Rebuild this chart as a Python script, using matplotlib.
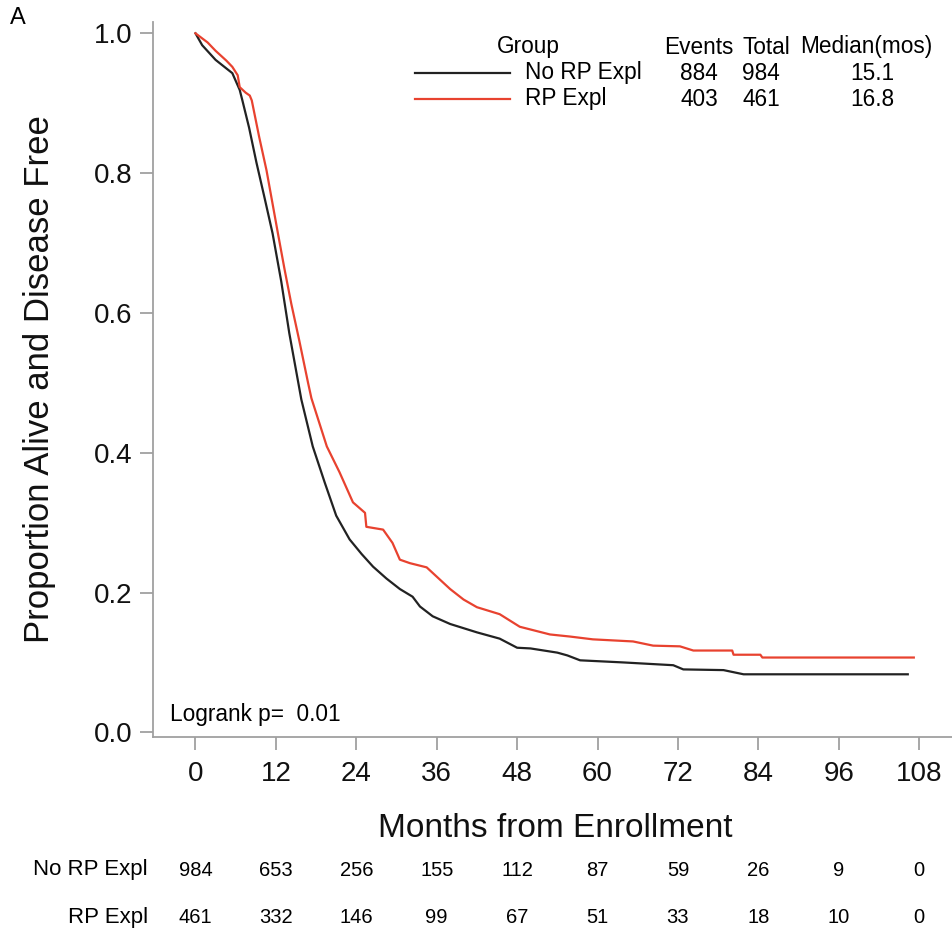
import matplotlib
matplotlib.use("Agg")
import matplotlib.pyplot as plt
import matplotlib.transforms as mtransforms
from matplotlib import font_manager

plt.rcParams['font.family'] = ['Liberation Sans', 'DejaVu Sans']

# ---- data ----
groups = ["No RP Expl", "RP Expl"]
colors = ["#222222", "#e8422f"]

t_norp = [0, 1.0, 3.0, 5.5, 6.6, 7.0, 8.0, 9.1, 10.3, 11.5, 12.8, 14.0, 15.8,
          17.5, 19.3, 21.0, 23.0, 24.8, 26.5, 28.5, 30.5, 32.4, 33.5, 35.4, 38.0,
          42.0, 45.4, 48.0, 50.0, 54.0, 55.5, 57.4, 63.8, 71.3, 72.8, 78.8, 81.8, 106.3]
s_norp = [1.0, 0.983, 0.962, 0.943, 0.919, 0.904, 0.865, 0.815, 0.765, 0.714, 0.645, 0.571,
          0.476, 0.409, 0.357, 0.31, 0.276, 0.255, 0.237, 0.22, 0.205, 0.194, 0.18,
          0.166, 0.155, 0.143, 0.134, 0.121, 0.12, 0.114, 0.11, 0.103, 0.1, 0.096, 0.09,
          0.089, 0.083, 0.083]

t_rp = [0, 1.8, 3.0, 4.6, 5.5, 6.3, 6.6, 7.5, 8.1, 8.4, 9.5, 10.6, 12.3, 13.3, 14.3,
        15.5, 16.8, 17.3, 19.6, 21.5, 23.5, 25.3, 25.5, 28.0, 29.4, 30.5, 32.0, 34.5,
        38.0, 40.0, 42.0, 45.4, 48.4, 52.9, 55.9, 59.3, 65.3, 68.3, 72.3, 74.3, 80.1,
        80.3, 84.3, 84.6, 107.2]
s_rp = [1.0, 0.987, 0.975, 0.961, 0.952, 0.94, 0.923, 0.915, 0.911, 0.904, 0.852, 0.804,
        0.714, 0.662, 0.613, 0.56, 0.5, 0.478, 0.409, 0.372, 0.329, 0.314, 0.294, 0.29,
        0.271, 0.247, 0.242, 0.236, 0.205, 0.19, 0.179, 0.169, 0.151, 0.14, 0.137, 0.133,
        0.13, 0.124, 0.123, 0.117, 0.117, 0.111, 0.111, 0.107, 0.107]

events = [884, 403]
totals = [984, 461]
medians = ["15.1", "16.8"]

risk_times = [0, 12, 24, 36, 48, 60, 72, 84, 96, 108]
risk_norp = [984, 653, 256, 155, 112, 87, 59, 26, 9, 0]
risk_rp = [461, 332, 146, 99, 67, 51, 33, 18, 10, 0]

x_ticks = [0, 12, 24, 36, 48, 60, 72, 84, 96, 108]
y_ticks = [0.0, 0.2, 0.4, 0.6, 0.8, 1.0]

# ---- figure ----
W, H = 952, 938
fig = plt.figure(figsize=(W / 100, H / 100), dpi=100)
ax = fig.add_axes([153 / W, 1 - 737 / H, (952 - 153) / W, (737 - 22) / H])

ax.plot(t_norp, s_norp, color=colors[0], lw=1.6)
ax.plot(t_rp, s_rp, color=colors[1], lw=1.6)

ax.set_xlim(-6.34, 112.9)
ax.set_ylim(-0.0067, 1.0162)

gray = "#a0a0a0"
for s in ['top', 'right']:
    ax.spines[s].set_visible(False)
for s in ['left', 'bottom']:
    ax.spines[s].set_color(gray)
    ax.spines[s].set_linewidth(1.3)

ax.set_xticks(x_ticks)
ax.set_yticks(y_ticks)
ax.set_yticklabels([f"{v:.1f}" for v in y_ticks])
ax.tick_params(axis='both', colors=gray, labelcolor='#111111', labelsize=20,
               length=9.5, width=1.3, direction='out')
ax.tick_params(axis='y', pad=5)
ax.tick_params(axis='x', pad=8)

ax.set_ylabel("Proportion Alive and Disease Free", fontsize=25, color='#111111')
ax.yaxis.set_label_coords((40 - 153) / (952 - 153), 0.5)
ax.set_xlabel("Months from Enrollment", fontsize=24, color='#111111')
ax.xaxis.set_label_coords((555 - 153) / (952 - 153), -(828 - 737) / (737 - 22))
ax.xaxis.label.set_va('center')
ax.yaxis.label.set_va('center')


def fx(px):
    return px / W


def fy(py):
    return 1 - py / H


# legend table
tsize = 16.3
fig.text(fx(528), fy(47), "Group", ha='center', va='center', fontsize=tsize)
fig.text(fx(699), fy(47), "Events", ha='center', va='center', fontsize=tsize)
fig.text(fx(766), fy(47), "Total", ha='center', va='center', fontsize=tsize)
fig.text(fx(866), fy(47), "Median(mos)", ha='center', va='center', fontsize=tsize)
rows_y = [73, 99]
for i in range(2):
    y = rows_y[i]
    fig.add_artist(plt.Line2D([fx(415), fx(510)], [fy(y), fy(y)], color=colors[i], lw=1.6))
    fig.text(fx(525), fy(y), groups[i], ha='left', va='center', fontsize=tsize)
    fig.text(fx(699), fy(y), str(events[i]), ha='center', va='center', fontsize=tsize)
    fig.text(fx(761), fy(y), str(totals[i]), ha='center', va='center', fontsize=tsize)
    fig.text(fx(872), fy(y), medians[i], ha='center', va='center', fontsize=tsize)

fig.text(fx(170), fy(715), "Logrank p=  0.01", ha='left', va='center', fontsize=tsize)
fig.text(fx(10), fy(18), "A", ha='left', va='center', fontsize=17)

# risk table
names = {f.name for f in font_manager.fontManager.ttflist}
if 'Liberation Sans Narrow' in names:
    rfam = ['Liberation Sans Narrow', 'DejaVu Sans']
    nsize, lsize = 17.5, 18.5
else:
    rfam = ['Liberation Sans', 'DejaVu Sans']
    nsize, lsize = 14.5, 16

trans = mtransforms.blended_transform_factory(ax.transData, fig.transFigure)
for vals, lab, py in [(risk_norp, groups[0], 870), (risk_rp, groups[1], 917)]:
    fig.text(fx(148), fy(py), lab, ha='right', va='center', fontsize=lsize,
             family=rfam)
    for t, v in zip(risk_times, vals):
        ax.text(t, fy(py), str(v), transform=trans, ha='center', va='center',
                fontsize=nsize, family=rfam, clip_on=False)

fig.savefig("out.png", dpi=100)
